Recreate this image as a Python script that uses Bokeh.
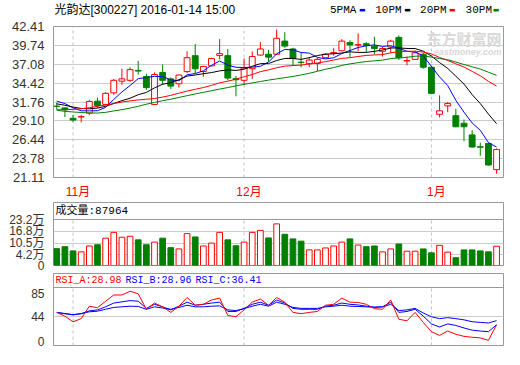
import pandas as pd
from bokeh.plotting import figure
from bokeh.layouts import column
from bokeh.models import ColumnDataSource, FixedTicker, Range1d, Label, Span, AllLabels
from bokeh.embed import file_html
from bokeh.resources import INLINE

# ---------------- data ----------------
stock_name = "光韵达"
stock_code = "300227"
stamp = "2016-01-14 15:00"

trading_days = [d for d in pd.bdate_range("2015-10-29", "2016-01-14")
                if d != pd.Timestamp("2016-01-01")]

opens = [31.17, 30.93, 29.46, 29.65, 30.19, 31.88, 31.42, 33.05, 34.70, 34.82,
         36.22, 35.35, 31.42, 35.93, 35.02, 34.33, 36.05, 38.30, 36.05, 36.86,
         38.33, 38.30, 35.05, 34.82, 36.45, 38.38, 38.50, 38.50, 40.35, 39.24,
         37.38, 37.15, 37.19, 38.01, 38.66, 38.99, 40.14, 39.80, 39.98, 39.61,
         38.91, 39.52, 40.87, 37.55, 37.77, 38.50, 36.66, 30.03, 31.21, 29.83,
         28.76, 27.12, 25.45, 25.90, 22.21]
highs = [31.67, 31.00, 29.91, 29.91, 32.07, 32.37, 33.14, 35.02, 36.45, 36.66,
         37.56, 35.75, 35.93, 37.07, 35.23, 35.63, 38.91, 39.93, 36.86, 38.01,
         40.63, 39.24, 35.43, 37.89, 38.91, 40.22, 39.12, 41.98, 41.60, 39.40,
         38.70, 38.09, 38.01, 38.63, 39.40, 40.63, 40.47, 41.45, 40.20, 40.96,
         39.52, 40.54, 41.16, 38.17, 38.99, 38.70, 36.86, 32.69, 31.75, 30.81,
         29.30, 27.78, 26.02, 26.02, 25.20]
lows = [30.68, 29.62, 28.97, 28.88, 29.91, 30.93, 31.30, 32.77, 34.21, 34.61,
        35.63, 33.47, 31.34, 34.21, 33.59, 33.79, 35.84, 35.84, 35.31, 36.78,
        37.77, 34.82, 32.56, 34.21, 35.02, 38.30, 37.47, 38.42, 39.40, 36.94,
        36.66, 36.66, 36.12, 37.93, 38.30, 38.91, 38.09, 38.91, 38.80, 38.50,
        38.17, 38.70, 37.68, 36.94, 37.68, 36.45, 32.86, 29.58, 30.32, 28.19,
        26.23, 25.32, 24.18, 22.79, 21.64]
closes = [31.14, 30.65, 29.21, 29.70, 31.83, 31.26, 32.98, 34.82, 35.02, 36.33,
          36.12, 33.79, 35.63, 34.82, 34.00, 35.56, 38.01, 36.45, 36.78, 37.89,
          38.58, 35.14, 34.90, 36.54, 38.17, 39.24, 38.09, 40.75, 39.65, 37.89,
          37.32, 37.68, 37.77, 38.50, 38.72, 40.35, 39.81, 39.85, 39.72, 39.31,
          39.31, 40.35, 38.01, 37.62, 38.70, 36.66, 32.98, 30.52, 31.54, 28.27,
          28.27, 25.41, 25.38, 22.87, 25.07]
# volume in 万 shares
volumes = [7.51, 8.56, 6.30, 5.78, 8.93, 9.61, 13.13, 16.28, 13.65, 14.18,
           12.23, 9.61, 11.03, 13.13, 8.03, 7.35, 15.59, 13.81, 8.93, 10.50,
           16.28, 12.23, 9.08, 11.03, 16.28, 17.33, 13.29, 20.84, 15.23, 12.76,
           11.55, 6.83, 6.83, 7.88, 8.93, 11.03, 12.76, 9.45, 8.56, 8.93,
           5.78, 7.35, 9.98, 6.13, 6.13, 7.35, 5.25, 9.28, 5.62, 2.63,
           6.83, 6.83, 6.30, 5.78, 8.80]
last_volume = 87964

ma5 = [31.88, 31.54, 30.93, 30.52, 30.51, 30.53, 31.00, 32.12, 33.18, 34.08,
       35.05, 35.22, 35.38, 35.34, 34.87, 34.76, 35.60, 35.77, 36.16, 36.94,
       37.54, 36.97, 36.66, 36.61, 36.67, 36.80, 37.39, 38.56, 39.18, 39.12,
       38.74, 38.66, 38.06, 37.83, 38.00, 38.60, 39.03, 39.45, 39.69, 39.81,
       39.60, 39.71, 39.34, 38.92, 38.80, 38.27, 36.79, 35.30, 34.08, 31.99,
       30.32, 28.80, 27.77, 26.04, 25.40]
ma10 = [31.50, 31.30, 31.05, 30.85, 30.80, 30.90, 31.15, 31.55, 31.95, 32.29,
        32.79, 33.11, 33.75, 34.26, 34.48, 34.91, 35.41, 35.57, 35.75, 35.91,
        36.15, 36.29, 36.21, 36.39, 36.80, 37.17, 37.18, 37.61, 37.90, 37.90,
        37.77, 38.02, 38.31, 38.51, 38.56, 38.67, 38.84, 38.75, 38.76, 38.90,
        39.10, 39.37, 39.39, 39.31, 39.30, 38.93, 38.25, 37.32, 36.50, 35.40,
        34.29, 32.80, 31.54, 30.06, 28.70]
ma20 = [30.65, 30.68, 30.72, 30.80, 30.95, 31.15, 31.34, 31.54, 31.75, 31.92,
        32.05, 32.15, 32.25, 32.45, 32.70, 33.00, 33.30, 33.55, 33.80, 34.10,
        34.47, 34.70, 34.98, 35.32, 35.64, 36.04, 36.29, 36.59, 36.82, 36.90,
        36.96, 37.15, 37.26, 37.45, 37.68, 37.92, 38.01, 38.18, 38.33, 38.40,
        38.44, 38.70, 38.85, 38.91, 38.93, 38.80, 38.55, 38.04, 37.63, 37.15,
        36.70, 36.08, 35.46, 34.68, 34.00]
ma30 = [30.60, 30.44, 30.35, 30.28, 30.22, 30.20, 30.30, 30.50, 30.68, 30.90,
        31.15, 31.45, 31.70, 31.95, 32.15, 32.40, 32.65, 32.90, 33.12, 33.35,
        33.58, 33.80, 34.03, 34.25, 34.45, 34.65, 34.85, 35.02, 35.20, 35.36,
        35.57, 35.81, 36.09, 36.38, 36.61, 36.92, 37.14, 37.31, 37.47, 37.57,
        37.67, 37.89, 37.97, 38.07, 38.22, 38.26, 38.09, 37.89, 37.72, 37.40,
        37.05, 36.73, 36.41, 35.96, 35.52]

rsi_a = [51.1, 44.4, 34.4, 40.0, 62.2, 59.4, 71.1, 82.2, 82.2, 88.9,
         84.4, 56.7, 67.8, 61.1, 51.1, 62.2, 77.8, 63.9, 65.6, 73.3,
         76.7, 45.6, 43.3, 55.6, 69.4, 75.0, 63.9, 77.8, 69.4, 51.1,
         48.9, 51.1, 52.8, 63.9, 65.6, 76.7, 69.4, 68.9, 65.6, 57.8,
         56.7, 73.3, 38.9, 36.1, 51.1, 33.3, 16.7, 10.0, 17.8, 12.2,
         8.3, 6.7, 5.6, 1.1, 28.98]
rsi_b = [51.1, 48.9, 47.2, 48.9, 53.9, 55.6, 61.1, 67.8, 70.0, 72.2,
         71.1, 58.3, 65.6, 61.1, 55.6, 62.2, 69.4, 63.9, 65.6, 67.8,
         69.4, 52.8, 52.8, 58.3, 65.6, 69.4, 63.9, 73.3, 67.8, 58.3,
         56.7, 56.7, 56.7, 62.2, 63.9, 67.8, 65.6, 64.4, 62.2, 60.0,
         61.1, 69.4, 51.1, 52.8, 56.7, 44.4, 30.6, 25.0, 30.6, 27.8,
         23.3, 19.4, 17.8, 16.7, 28.96]
rsi_c = [51.1, 48.9, 46.7, 48.9, 52.2, 53.3, 56.7, 60.0, 61.1, 62.2,
         61.7, 56.7, 61.1, 58.9, 56.7, 60.0, 63.9, 61.1, 61.1, 62.2,
         62.8, 55.6, 54.4, 57.8, 62.2, 65.6, 62.2, 69.4, 65.6, 60.0,
         58.3, 58.3, 58.3, 61.1, 62.2, 63.9, 62.2, 61.7, 61.1, 60.6,
         61.1, 65.6, 54.4, 55.6, 58.3, 50.0, 43.3, 40.0, 41.7, 40.0,
         37.8, 34.4, 33.3, 32.2, 36.41]

price_ticks = [21.11, 23.78, 26.44, 29.10, 31.76, 34.42, 37.08, 39.74, 42.41]
volume_ticks = [0, 4.2, 10.5, 16.8, 23.2]
rsi_ticks = [0, 44, 85]
ma_names = ["5PMA", "10PM", "20PM", "30PM"]

# ---------------- styles ----------------
RED = "#ff0000"
GREEN = "#008000"
BLUE = "#0000ff"
BLACK = "#000000"
FRAME = "#999999"
GRID = "#cccccc"
DASH = "#c0c0c0"
SANS = "'Liberation Sans', 'Noto Sans CJK SC'"
MONO = "'Liberation Mono', 'Noto Sans CJK SC'"
ma_colors = [BLUE, BLACK, RED, GREEN]
W = 504
LEFT = 53
RIGHT = 1
MONTH_LABEL_SHIFT = 0.6   # month labels sit just right of their dashed line

n = len(closes)
idx = list(range(n))
up = [c >= o for o, c in zip(opens, closes)]
month_pos = [i for i in range(1, n) if trading_days[i].month != trading_days[i - 1].month]
month_text = [f"{trading_days[i].month}月" for i in month_pos]

XR = Range1d(-0.4, n - 0.15)

src = ColumnDataSource(dict(
    x=idx, h=highs, l=lows,
    top=[max(o, c) for o, c in zip(opens, closes)],
    bot=[min(o, c) for o, c in zip(opens, closes)],
    col=[RED if u else GREEN for u in up],
    fill=["#ffffff" if u else GREEN for u in up],
    vol=volumes,
))


def base_fig(height, y_range, top, bottom, xloc=None):
    p = figure(width=W, height=height, x_range=XR, y_range=y_range,
               output_backend="svg", toolbar_location=None, tools="",
               x_axis_location=xloc, min_border_left=LEFT, min_border_right=RIGHT,
               min_border_top=top, min_border_bottom=bottom)
    p.background_fill_color = "#ffffff"
    p.border_fill_color = "#ffffff"
    p.xgrid.grid_line_color = None
    return p


def panel(height, y_range, top, bottom, xloc=None):
    p = base_fig(height, y_range, top, bottom, xloc)
    p.outline_line_color = FRAME
    p.ygrid.grid_line_color = GRID
    p.yaxis.axis_line_color = None
    p.yaxis.major_tick_line_color = None
    p.yaxis.minor_tick_line_color = None
    p.yaxis.major_label_standoff = 3
    p.yaxis.major_label_text_color = "#333333"
    p.yaxis.major_label_text_font = SANS
    p.yaxis.major_label_policy = AllLabels()
    return p


def month_lines(p, y0, y1):
    k = len(month_pos)
    p.segment(x0=month_pos, y0=[y0] * k, x1=month_pos, y1=[y1] * k,
              line_color=DASH, line_dash="3 3", line_width=1)


# ---------------- title / legend row ----------------
pT = base_fig(18, Range1d(0, 1), 0, 0)
pT.yaxis.visible = False
pT.ygrid.grid_line_color = None
pT.outline_line_color = None
pT.add_layout(Label(x=XR.start, y=0.5, x_offset=1,
                    text=f"{stock_name}[{stock_code}] {stamp}",
                    text_font=SANS, text_font_size="12px", text_color="#000000",
                    text_baseline="middle", text_align="left"))
leg_text_off = [-173.5, -128.3, -83.4, -37.9]
leg_dash_off = [-144.5, -99.2, -54.4, -10.7]
for name, colr, to, do in zip(ma_names, ma_colors, leg_text_off, leg_dash_off):
    pT.add_layout(Label(x=XR.end, y=0.5, x_offset=to, text=name,
                        text_font=MONO, text_font_size="11px", text_color="#000000",
                        text_baseline="middle", text_align="left"))
    pT.add_layout(Label(x=XR.end, y=0.5, x_offset=do, text="▬",
                        text_font="'DejaVu Sans'", text_font_size="7px",
                        text_color=colr, text_baseline="middle", text_align="left"))

# ---------------- main K-line panel (month names on its x axis) ----------------
pmin, pmax = price_ticks[0], price_ticks[-1]
pA = panel(183, Range1d(pmin, pmax), 8, 19, xloc="below")
pA.yaxis.ticker = FixedTicker(ticks=price_ticks)
pA.yaxis.major_label_overrides = {t: f"{t:.2f}" for t in price_ticks}
pA.yaxis.major_label_text_font_size = "13px"
pA.ygrid.ticker = FixedTicker(ticks=price_ticks[1:-1])

label_pos = [p + MONTH_LABEL_SHIFT for p in month_pos]
pA.xaxis.ticker = FixedTicker(ticks=label_pos)
pA.xaxis.major_label_overrides = {p: t for p, t in zip(label_pos, month_text)}
pA.xaxis.major_label_text_color = RED
pA.xaxis.major_label_text_font = SANS
pA.xaxis.major_label_text_font_size = "12px"
pA.xaxis.major_label_standoff = 1
pA.xaxis.axis_line_color = None
pA.xaxis.major_tick_line_color = None
pA.xaxis.minor_tick_line_color = None
pA.xaxis.major_label_policy = AllLabels()
month_lines(pA, pmin, pmax)

pA.segment(x0="x", y0="h", x1="x", y1="l", source=src, line_color="col", line_width=1)
pA.vbar(x="x", width=0.72, top="top", bottom="bot", source=src,
        fill_color="fill", line_color="col", line_width=1)
for ma, colr in zip([ma5, ma10, ma20, ma30], ma_colors):
    pA.line(idx, ma, line_color=colr, line_width=1)

pA.add_layout(Label(x=XR.end, y=pmax, x_offset=-2, y_offset=-12, text="东方财富网",
                    text_font="'Noto Sans CJK SC'", text_font_size="15px",
                    text_font_style="bold", text_color="#d8d8d8",
                    text_baseline="middle", text_align="right"))
pA.add_layout(Label(x=XR.end, y=pmax, x_offset=-2, y_offset=-25, text="eastmoney.com",
                    text_font="'Liberation Sans'", text_font_size="9px",
                    text_font_style="bold italic", text_color="#d8d8d8",
                    text_baseline="middle", text_align="right"))

# ---------------- volume panel ----------------
v_floor = -1.575
v_sep = volume_ticks[-1]
v_top = v_sep + 9.16
pB = panel(71, Range1d(v_floor, v_top), 1, 7)
vol_tick_pos = [v_floor] + volume_ticks[1:]
pB.yaxis.ticker = FixedTicker(ticks=vol_tick_pos)
pB.yaxis.major_label_overrides = {p: f"{t:g}万" if t else "0"
                                  for p, t in zip(vol_tick_pos, volume_ticks)}
pB.yaxis.major_label_text_font_size = "12px"
pB.ygrid.ticker = FixedTicker(ticks=volume_ticks[1:-1])
month_lines(pB, v_floor, v_sep)
pB.vbar(x="x", width=0.7, top="vol", bottom=v_floor, source=src,
        fill_color="fill", line_color="col", line_width=1)
pB.add_layout(Span(location=v_sep, dimension="width", line_color=FRAME, line_width=1))
pB.add_layout(Label(x=XR.start, y=(v_sep + v_top) / 2, x_offset=2,
                    text=f"成交量:{last_volume}", text_font=MONO, text_font_size="11px",
                    text_color="#000000", text_baseline="middle", text_align="left"))

# ---------------- RSI panel ----------------
r_floor = -8.0
r_sep = 95.6
r_top = 120.6
pC = panel(76, Range1d(r_floor, r_top), 1, 3)
pC.yaxis.ticker = FixedTicker(ticks=rsi_ticks)
pC.yaxis.major_label_text_font_size = "12px"
pC.ygrid.ticker = FixedTicker(ticks=[44])
month_lines(pC, r_floor, r_sep)
pC.line(idx, rsi_c, line_color=BLUE, line_width=1)
pC.line(idx, rsi_b, line_color=BLUE, line_width=1)
pC.line(idx, rsi_a, line_color=RED, line_width=1)
pC.add_layout(Span(location=r_sep, dimension="width", line_color=FRAME, line_width=1))
for name, vals, colr, off in zip(["RSI_A", "RSI_B", "RSI_C"], [rsi_a, rsi_b, rsi_c],
                                 [RED, BLUE, BLUE], [2, 72, 142]):
    pC.add_layout(Label(x=XR.start, y=(r_sep + r_top) / 2, x_offset=off,
                        text=f"{name}:{vals[-1]:.2f}", text_font=MONO,
                        text_font_size="10px", text_color=colr,
                        text_baseline="middle", text_align="left"))

layout = column(pT, pA, pB, pC)
open("out.html", "w").write(file_html(layout, INLINE))
